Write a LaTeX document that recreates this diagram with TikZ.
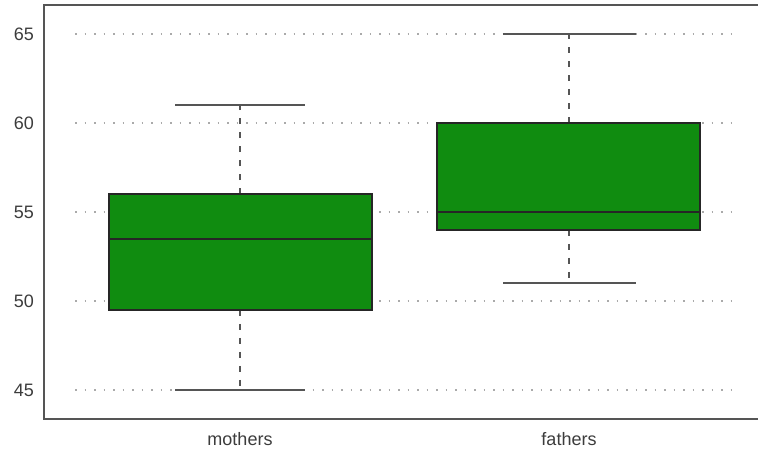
\documentclass[tikz,border=0pt]{standalone}
\usepackage{fontspec}
\setmainfont{Liberation Sans}
\definecolor{boxgreen}{RGB}{16,140,16}
\definecolor{framegray}{RGB}{85,85,85}
\definecolor{gridgray}{RGB}{170,170,170}
\definecolor{textgray}{RGB}{60,60,60}
\begin{document}
\begin{tikzpicture}[x=1pt,y=-1pt,
  declare function={Y(\v)=390-(\v-45)*17.8;},
  frameline/.style={draw=framegray,line width=2pt},
  gridline/.style={draw=gridgray,line width=1.6pt,dash pattern=on 1.6pt off 7.9pt},
  whisk/.style={draw=framegray,line width=2pt,dash pattern=on 6pt off 8pt},
  capline/.style={draw=framegray,line width=2pt},
  boxfill/.style={fill=boxgreen,draw=black!85,line width=1.8pt},
  medline/.style={draw=black!85,line width=1.8pt},
  ticklbl/.style={font=\fontsize{18}{20}\selectfont,text=textgray,anchor=east,inner sep=0pt},
  catlbl/.style={font=\fontsize{18}{20}\selectfont,text=textgray,anchor=center,inner sep=0pt}]
\useasboundingbox (0,0) rectangle (758,452);
% grid
\foreach \v in {45,50,55,60,65}{
  \draw[gridline] (75,{Y(\v)}) -- (733,{Y(\v)});
  \node[ticklbl] (t\v) at (34,{Y(\v)}) {\v};
}
% mothers
\draw[whisk] (240,{Y(56)}) -- (240,{Y(61)});
\draw[whisk] (240,{Y(49.5)}) -- (240,{Y(45)});
\draw[capline] (175,{Y(61)}) -- (305,{Y(61)});
\draw[capline] (175,{Y(45)}) -- (305,{Y(45)});
\draw[boxfill] (109,{Y(49.5)}) rectangle (372,{Y(56)});
\draw[medline] (109,{Y(53.5)}) -- (372,{Y(53.5)});
% fathers
\draw[whisk] (569,{Y(60)}) -- (569,{Y(65)});
\draw[whisk] (569,{Y(54)}) -- (569,{Y(51)});
\draw[capline] (503,{Y(65)}) -- (636,{Y(65)});
\draw[capline] (503,{Y(51)}) -- (636,{Y(51)});
\draw[boxfill] (437,{Y(54)}) rectangle (700,{Y(60)});
\draw[medline] (437,{Y(55)}) -- (700,{Y(55)});
% frame
\draw[frameline] (758,5.5) -- (43.5,5.5) -- (43.5,418.5) -- (758,418.5);
% category labels
\node[catlbl] (m) at (240,439) {mothers};
\node[catlbl] (f) at (569,439) {fathers};
\end{tikzpicture}
\end{document}
